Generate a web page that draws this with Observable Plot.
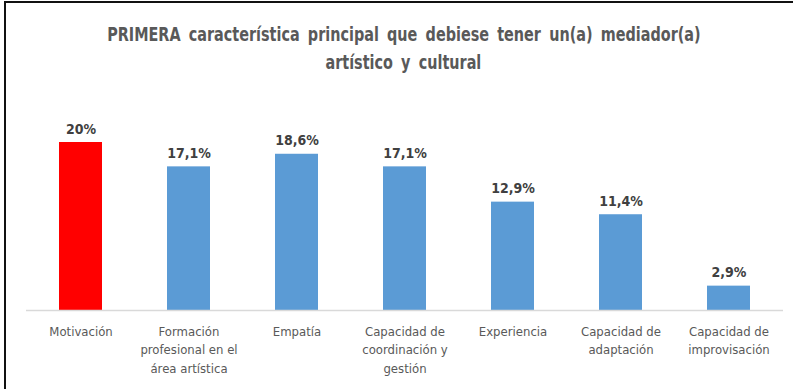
<!DOCTYPE html>
<html>
<head>
<meta charset="utf-8">
<script src="https://cdn.jsdelivr.net/npm/d3@7"></script>
<script src="https://cdn.jsdelivr.net/npm/@observablehq/plot@0.6"></script>
<style>
  html, body { margin: 0; padding: 0; background: #fff; }
  #frame {
    position: relative; width: 793px; height: 389px; overflow: hidden;
    box-sizing: border-box; background: #fff;
  }
  #bl { position: absolute; left: 4px; top: 1px; width: 2px; height: 388px; background: #111; }
  #bt { position: absolute; left: 4px; top: 1px; width: 789px; height: 2px; background: #111; }
  #title {
    height: 95px; box-sizing: border-box; padding-top: 20px; padding-left: 14px;
    font-family: "DejaVu Sans Condensed", "Liberation Sans Narrow", sans-serif;
    font-weight: bold; font-size: 20px; line-height: 28px; color: #595959; word-spacing: 4px;
  }
  #title .ln { text-align: center; white-space: nowrap; }
  #title .ln span { display: inline-block; transform: scaleX(0.8); transform-origin: 50% 50%; }
  svg { display: block; }
</style>
</head>
<body>
<div id="frame">
  <div id="bl"></div><div id="bt"></div>
  <div id="title"><div class="ln"><span>PRIMERA característica principal que debiese tener un(a) mediador(a)</span></div><div class="ln"><span>artístico y cultural</span></div></div>
  <div id="chart"></div>
</div>
<script>
const categories = ["Motivación", "Formación profesional en el área artística", "Empatía", "Capacidad de coordinación y gestión", "Experiencia", "Capacidad de adaptación", "Capacidad de improvisación"];
const tickLabels = ["Motivación", "Formación\nprofesional en el\nárea artística", "Empatía", "Capacidad de\ncoordinación y\ngestión", "Experiencia", "Capacidad de\nadaptación", "Capacidad de\nimprovisación"];
const values = [20, 17.1, 18.6, 17.1, 12.9, 11.4, 2.9];
const valueLabels = ["20%", "17,1%", "18,6%", "17,1%", "12,9%", "11,4%", "2,9%"];
const highlight = "Motivación";

const data = categories.map((c, i) => ({category: c, value: values[i], label: valueLabels[i], tick: tickLabels[i]}));
const font = '"DejaVu Sans Condensed", "Liberation Sans Narrow", sans-serif';

const chart = Plot.plot({
  width: 793,
  height: 294,
  marginLeft: 26,
  marginRight: 10,
  marginTop: 47,
  marginBottom: 79,
  style: {fontFamily: font, background: "transparent"},
  x: {domain: categories, paddingInner: 0.606, paddingOuter: 0.303, axis: null},
  y: {domain: [0, 20], axis: null},
  marks: [
    Plot.barY(data, {x: "category", y: "value", fill: d => d.category === highlight ? "#FF0000" : "#5B9BD5"}),
    Plot.ruleY([0], {stroke: "#d9d9d9", strokeWidth: 1.5}),
    Plot.text(data, {x: "category", y: "value", text: "label", lineAnchor: "bottom", dy: -9,
      fontSize: 14, fontWeight: "bold", fill: "#404040"}),
    Plot.text(data, {x: "category", y: () => 0, text: "tick", lineAnchor: "top", dy: 12,
      fontSize: 13, lineHeight: 1.42, fill: "#595959"})
  ]
});
document.getElementById("chart").appendChild(chart);
</script>
</body>
</html>
